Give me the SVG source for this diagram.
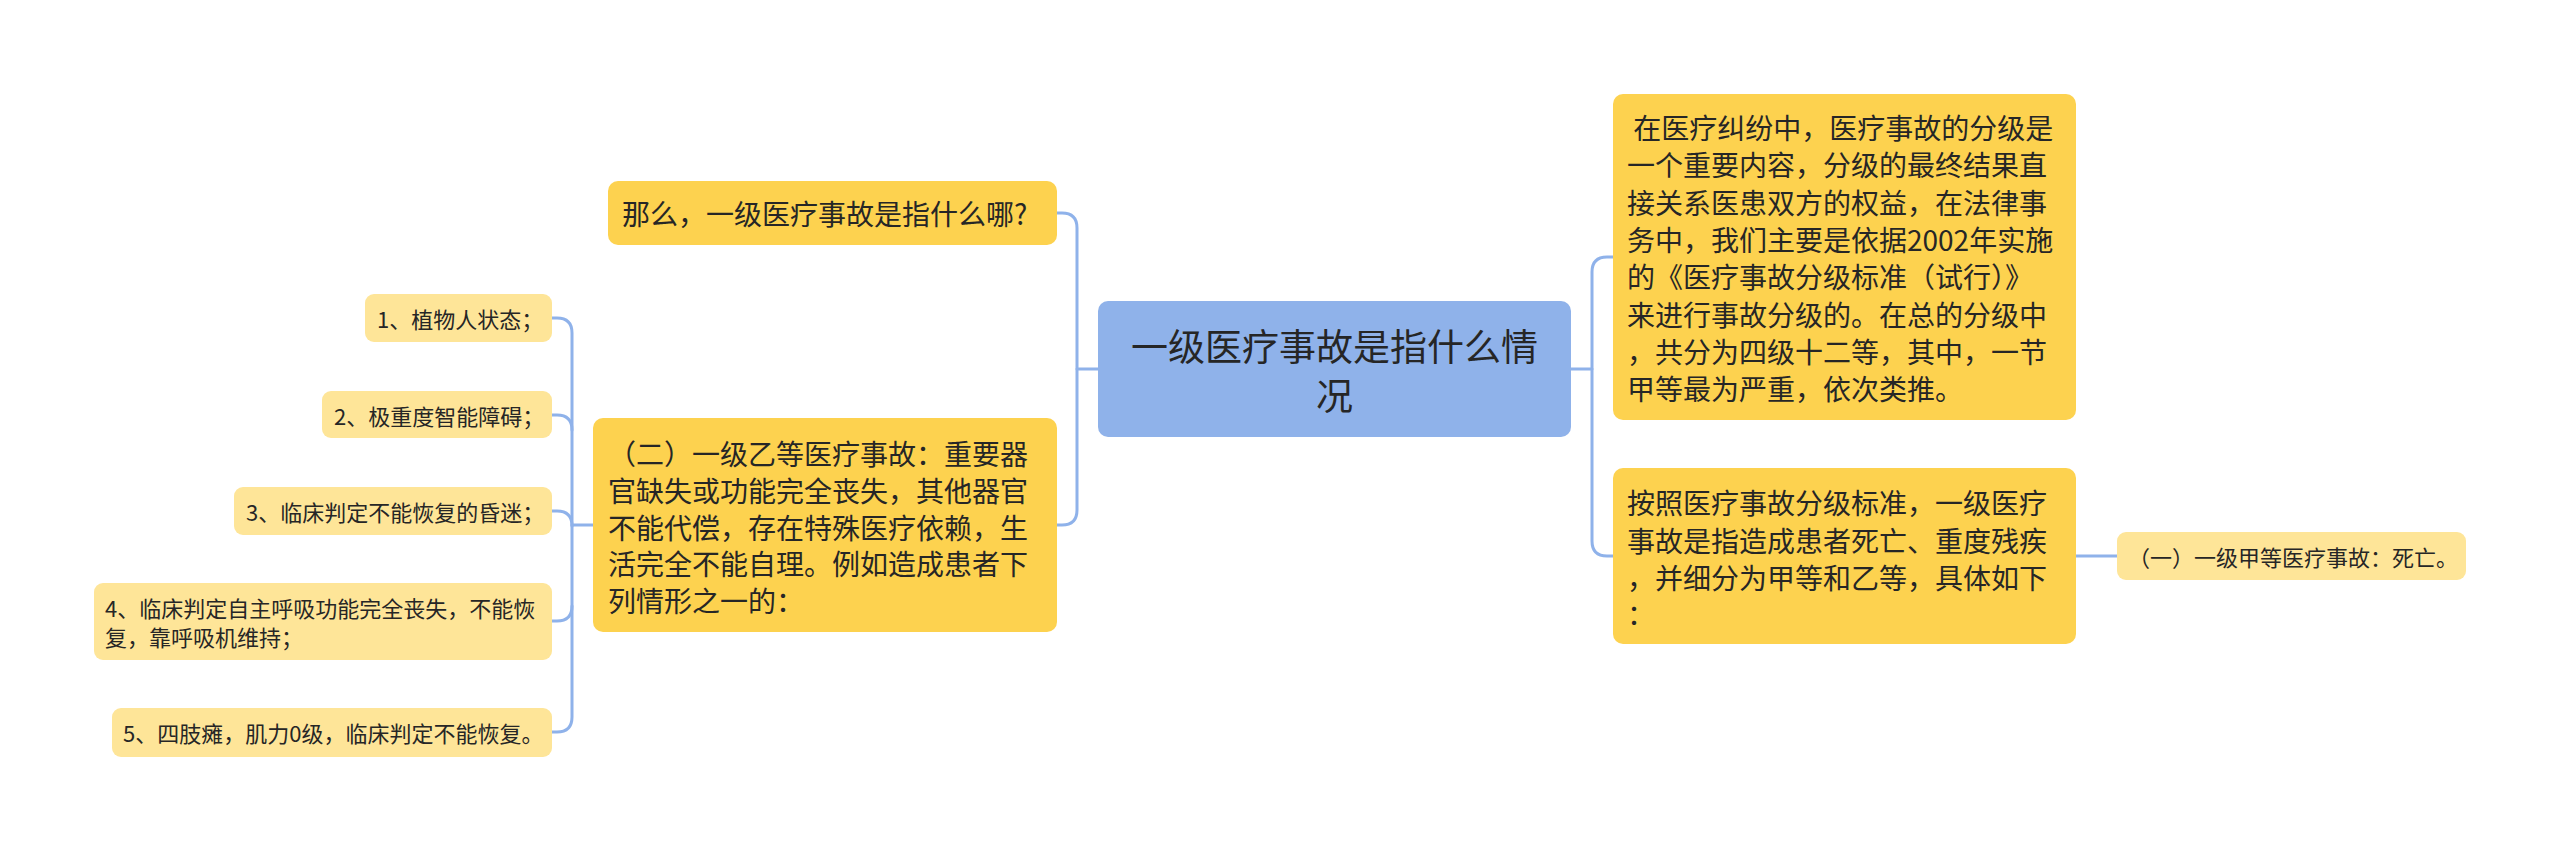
<svg xmlns="http://www.w3.org/2000/svg" width="2560" height="851" viewBox="0 0 2560 851">
<style>
.bg{fill:#ffffff}
.root{fill:#8FB2EA}
.main{fill:#FDD24F}
.leaf{fill:#FEE598}
.t{font-family:"Noto Sans CJK SC","Noto Sans",sans-serif;fill:#262626;dominant-baseline:central}
.t37{font-size:37px}
.t28{font-size:28px}
.t22{font-size:22px}
.conn{fill:none;stroke:#8FB2EA;stroke-width:3;stroke-linecap:round;stroke-linejoin:round}
</style>
<rect class="bg" x="0" y="0" width="2560" height="851"/>
<g id="connectors">
<path class="conn" d="M1098,369 H1077"/>
<path class="conn" d="M1057,213 H1062 Q1077,213 1077,228 V510 Q1077,525 1062,525 H1057"/>
<path class="conn" d="M593,525 H572"/>
<path class="conn" d="M552,318 H557 Q572,318 572,333 V717 Q572,732 557,732 H552"/>
<path class="conn" d="M552,415 H557 Q572,415 572,430"/>
<path class="conn" d="M552,511 H557 Q572,511 572,526"/>
<path class="conn" d="M552,621 H557 Q572,621 572,606"/>
<path class="conn" d="M1571,369 H1592"/>
<path class="conn" d="M1613,257 H1607 Q1592,257 1592,272 V541 Q1592,556 1607,556 H1613"/>
<path class="conn" d="M2076,556 H2117"/>
</g>
<g id="root">
<rect class="root" x="1098" y="301" width="473" height="136" rx="10"/>
<text class="t t37" x="1334.5" y="345" text-anchor="middle">一级医疗事故是指什么情</text>
<text class="t t37" x="1334.5" y="394" text-anchor="middle">况</text>
</g>
<g id="n-question">
<rect class="main" x="608" y="181" width="449" height="64" rx="10"/>
<text class="t t28" x="622" y="213">那么，一级医疗事故是指什么哪?</text>
</g>
<g id="n-yideng">
<rect class="main" x="593" y="418" width="464" height="214" rx="10"/>
<text class="t t28" x="608" y="453">（二）一级乙等医疗事故：重要器</text>
<text class="t t28" x="608" y="490">官缺失或功能完全丧失，其他器官</text>
<text class="t t28" x="608" y="527">不能代偿，存在特殊医疗依赖，生</text>
<text class="t t28" x="608" y="563">活完全不能自理。例如造成患者下</text>
<text class="t t28" x="608" y="600">列情形之一的：</text>
</g>
<g id="leaf-1">
<rect class="leaf" x="365" y="294" width="187" height="48" rx="9"/>
<text class="t t22" x="377" y="318">1、植物人状态；</text>
</g>
<g id="leaf-2">
<rect class="leaf" x="322" y="391" width="230" height="47" rx="9"/>
<text class="t t22" x="334" y="415">2、极重度智能障碍；</text>
</g>
<g id="leaf-3">
<rect class="leaf" x="234" y="487" width="318" height="48" rx="9"/>
<text class="t t22" x="246" y="511">3、临床判定不能恢复的昏迷；</text>
</g>
<g id="leaf-4">
<rect class="leaf" x="94" y="583" width="458" height="77" rx="9"/>
<text class="t t22" x="105" y="607">4、临床判定自主呼吸功能完全丧失，不能恢</text>
<text class="t t22" x="105" y="636">复，靠呼吸机维持；</text>
</g>
<g id="leaf-5">
<rect class="leaf" x="112" y="708" width="440" height="49" rx="9"/>
<text class="t t22" x="123" y="732">5、四肢瘫，肌力0级，临床判定不能恢复。</text>
</g>
<g id="n-intro">
<rect class="main" x="1613" y="94" width="463" height="326" rx="10"/>
<text class="t t28" x="1627" y="127" xml:space="preserve"> 在医疗纠纷中，医疗事故的分级是</text>
<text class="t t28" x="1627" y="164">一个重要内容，分级的最终结果直</text>
<text class="t t28" x="1627" y="202">接关系医患双方的权益，在法律事</text>
<text class="t t28" x="1627" y="239">务中，我们主要是依据2002年实施</text>
<text class="t t28" x="1627" y="276">的《医疗事故分级标准（试行）》</text>
<text class="t t28" x="1627" y="314">来进行事故分级的。在总的分级中</text>
<text class="t t28" x="1627" y="351">，共分为四级十二等，其中，一节</text>
<text class="t t28" x="1627" y="388">甲等最为严重，依次类推。</text>
</g>
<g id="n-standard">
<rect class="main" x="1613" y="468" width="463" height="176" rx="10"/>
<text class="t t28" x="1627" y="502">按照医疗事故分级标准，一级医疗</text>
<text class="t t28" x="1627" y="540">事故是指造成患者死亡、重度残疾</text>
<text class="t t28" x="1627" y="577">，并细分为甲等和乙等，具体如下</text>
<text class="t t28" x="1627" y="613">：</text>
</g>
<g id="leaf-jia">
<rect class="leaf" x="2117" y="532" width="349" height="48" rx="9"/>
<text class="t t22" x="2128" y="556">（一）一级甲等医疗事故：死亡。</text>
</g>
</svg>
